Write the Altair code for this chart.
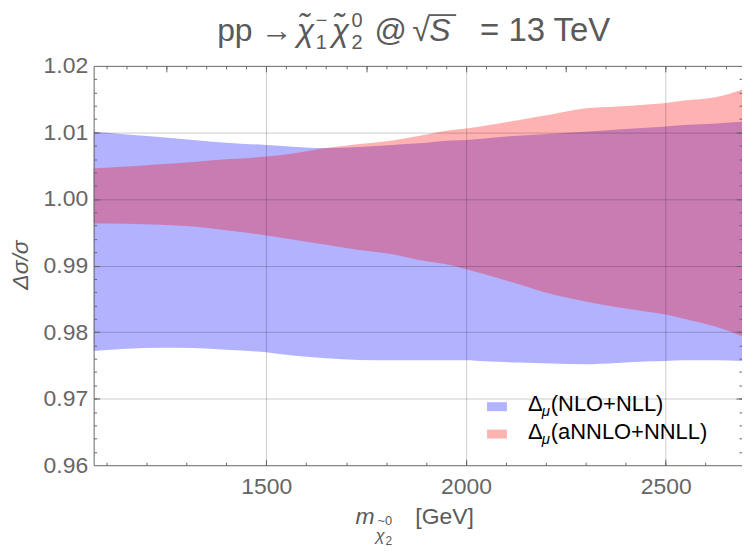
import altair as alt
import pandas as pd

# ---------------- data ----------------
mass = [1068, 1151, 1234, 1317, 1400, 1500, 1566, 1650, 1733, 1816, 1881,
        1964, 2000, 2047, 2130, 2213, 2296, 2379, 2462, 2500, 2545, 2628, 2692]
nlo_hi = [1.0101, 1.0097, 1.0093, 1.00886, 1.00846, 1.00811, 1.00786, 1.00766,
          1.00781, 1.00811, 1.00836, 1.0088, 1.00886, 1.0091, 1.0095, 1.0098,
          1.0101, 1.01045, 1.01075, 1.0109, 1.0111, 1.01134, 1.01159]
nlo_lo = [0.97716, 0.97751, 0.97766, 0.97761, 0.97736, 0.97697, 0.97647, 0.97607,
          0.97582, 0.97577, 0.97577, 0.97577, 0.97577, 0.97562, 0.97542, 0.97527,
          0.97517, 0.97537, 0.97562, 0.97567, 0.97577, 0.97577, 0.97567]
nnlo_hi = [1.00463, 1.00488, 1.00522, 1.00557, 1.00597, 1.00637, 1.00682, 1.00766,
           1.00826, 1.0088, 1.00945, 1.01035, 1.0106, 1.011, 1.01184, 1.01269,
           1.01358, 1.01388, 1.01423, 1.01443, 1.01478, 1.01532, 1.01642]
nnlo_lo = [0.99632, 0.99627, 0.99612, 0.99587, 0.99532, 0.99453, 0.99393, 0.99313,
           0.99234, 0.99169, 0.99085, 0.99005, 0.98945, 0.98871, 0.98721, 0.98572,
           0.98463, 0.98373, 0.98299, 0.98264, 0.98199, 0.98075, 0.97935]

x_label_ticks = [1500, 2000, 2500]
y_label_ticks = [0.96, 0.97, 0.98, 0.99, 1.00, 1.01, 1.02]
y_grid_ticks = [0.97, 0.98, 0.99, 1.00, 1.01]
x_bottom_minor = [1100, 1200, 1300, 1400, 1500, 1600, 1700, 1800, 1900, 2000,
                  2100, 2200, 2300, 2400, 2500, 2600]
x_top_minor = [1100, 1150, 1200, 1250, 1300, 1350, 1400, 1450, 1500, 1550, 1600,
               1650, 1700, 1750, 1800, 1850, 1900, 1950, 2000, 2050, 2100, 2150,
               2200, 2250, 2300, 2350, 2400, 2450, 2500, 2550, 2600, 2650]
x_top_major = [1250, 1500, 1750, 2000, 2250, 2500]
y_minor = [0.962, 0.964, 0.966, 0.968, 0.97, 0.972, 0.974, 0.976, 0.978, 0.98,
           0.982, 0.984, 0.986, 0.988, 0.99, 0.992, 0.994, 0.996, 0.998, 1.0,
           1.002, 1.004, 1.006, 1.008, 1.01, 1.012, 1.014, 1.016, 1.018]
y_major = [0.97, 0.98, 0.99, 1.00, 1.01]

legend_labels = ["(NLO+NLL)", "(aNNLO+NNLL)"]
legend_colors = ["#0000ff", "#ff0000"]

df = pd.DataFrame({"mass": mass, "nlo_hi": nlo_hi, "nlo_lo": nlo_lo,
                   "nnlo_hi": nnlo_hi, "nnlo_lo": nnlo_lo})

W, H = 651, 401
FONT = "Liberation Sans"
GRAY = "#666666"
TXT = "#5a5a5a"

xs = alt.Scale(domain=[1068, 2691], nice=False, zero=False)
ys = alt.Scale(domain=[0.96, 1.02], nice=False, zero=False)


def tick_axis(orient, offset, values, size, domain=False):
    return alt.Axis(orient=orient, offset=offset, values=values, tickSize=size,
                    ticks=True, tickColor=GRAY, tickWidth=1, labels=False,
                    grid=False, domain=domain, domainColor=GRAY, domainWidth=1,
                    title=None, zindex=1)


blue = alt.Chart(df).mark_area(color="#0000ff", opacity=0.3, interpolate="monotone").encode(
    x=alt.X("mass:Q", scale=xs, axis=alt.Axis(
        orient="bottom", values=x_label_ticks, format="d", grid=True,
        gridColor="#000000", gridOpacity=0.2, gridWidth=1, ticks=False,
        tickSize=0, domain=True, domainColor=GRAY, labelFont=FONT,
        labelFontSize=23, labelColor=GRAY, labelPadding=10, labelFlush=False,
        title=None, zindex=1)),
    y=alt.Y("nlo_lo:Q", scale=ys, axis=alt.Axis(
        orient="left", values=y_label_ticks, format=".2f", grid=False,
        ticks=False, tickSize=0, domain=True, domainColor=GRAY, labelFont=FONT,
        labelFontSize=23, labelColor=GRAY, labelPadding=6, labelFlush=False,
        title=None, zindex=1)),
    y2="nlo_hi:Q",
)

red = alt.Chart(df).mark_area(color="#ff0000", opacity=0.3, interpolate="monotone").encode(
    x=alt.X("mass:Q", scale=xs, axis=tick_axis("top", -H, x_bottom_minor, 3)),
    y=alt.Y("nnlo_lo:Q", scale=ys, axis=tick_axis("right", -W, y_minor, 3)),
    y2="nnlo_hi:Q",
)

# y grid (drawn on top of the bands) and major inward ticks
ygrid = alt.Chart(df).mark_point(opacity=0, size=0).encode(
    x=alt.X("mass:Q", scale=xs, axis=tick_axis("top", -H, x_label_ticks, 6)),
    y=alt.Y("nlo_hi:Q", scale=ys, axis=alt.Axis(
        orient="right", offset=-W, values=y_grid_ticks, grid=True,
        gridColor="#000000", gridOpacity=0.2, ticks=True, tickSize=6,
        tickColor=GRAY, labels=False, domain=False, title=None, zindex=1)),
)

g2 = alt.Chart(df).mark_point(opacity=0, size=0).encode(
    x=alt.X("mass:Q", scale=xs, axis=tick_axis("bottom", -H, x_top_minor, 3, domain=True)),
    y=alt.Y("nlo_hi:Q", scale=ys, axis=tick_axis("left", -W, y_minor, 3, domain=True)),
)
g3 = alt.Chart(df).mark_point(opacity=0, size=0).encode(
    x=alt.X("mass:Q", scale=xs, axis=tick_axis("bottom", -H, x_top_major, 6)),
    y=alt.Y("nlo_hi:Q", scale=ys, axis=tick_axis("left", -W, y_major, 6)),
)


def txt(s, x, y, size, color=TXT, style="normal", align="left", angle=0,
        baseline="alphabetic"):
    return alt.Chart(pd.DataFrame({"t": [s]})).mark_text(
        align=align, baseline=baseline, font=FONT, fontSize=size,
        fontStyle=style, color=color, angle=angle).encode(
        text="t:N", x=alt.value(x), y=alt.value(y))


def box(x, x2, y, y2, color):
    return alt.Chart(pd.DataFrame({"a": [0]})).mark_rect(color=color, opacity=0.3).encode(
        x=alt.value(x), x2=alt.value(x2), y=alt.value(y), y2=alt.value(y2))


texts = []
# title
TB = -25
texts += [
    txt("pp", 124, TB, 32),
    txt("→", 168, TB, 32),
    txt("χ\u0303", 204, TB, 32, style="italic"),
    txt("1", 223, TB + 8, 20),
    txt("−", 223, TB - 14, 20),
    txt("χ\u0303", 239, TB, 32, style="italic"),
    txt("2", 259, TB + 8, 20),
    txt("0", 259, TB - 14, 20),
    txt("@", 282, TB, 32),
    txt("√", 320, TB, 32),
    txt("S", 337, TB, 32, style="italic"),
    txt("= 13 TeV", 388, TB, 33),
]
overline = alt.Chart(pd.DataFrame({"a": [0]})).mark_rule(color=TXT, strokeWidth=1.8).encode(
    x=alt.value(336), x2=alt.value(364), y=alt.value(-51))

# x axis title
texts += [
    txt("m", 263, 460, 23, style="italic"),
    txt("~0", 285, 461, 13),
    txt("χ", 283, 477, 17, style="italic"),
    txt("2", 293, 481, 12),
    txt("[GeV]", 323, 460, 23),
]
# y axis title
texts.append(txt("Δσ/σ", -73, 200, 23, style="italic", align="center",
                 angle=270, baseline="middle"))

# legend
legend = []
for i, (lab, col) in enumerate(zip(legend_labels, legend_colors)):
    yb = 346.7 + 27.5 * i
    legend.append(box(395, 415, yb - 9, yb, col))
    legend.append(txt("Δ", 436, yb, 22, color="#000000"))
    legend.append(txt("μ", 450, yb + 5, 15, color="#000000", style="italic"))
    legend.append(txt(lab, 459, yb, 22, color="#000000"))

chart = alt.layer(blue, red, ygrid, g2, g3, overline, *texts, *legend).resolve_axis(
    x="independent", y="independent"
).properties(
    width=W, height=H,
    autosize=alt.AutoSizeParams(type="none"),
    padding={"left": 86, "top": 57, "right": 0, "bottom": 81},
).configure_view(stroke=None)

chart.save("out.html", embed_options={"renderer": "svg", "actions": False})
